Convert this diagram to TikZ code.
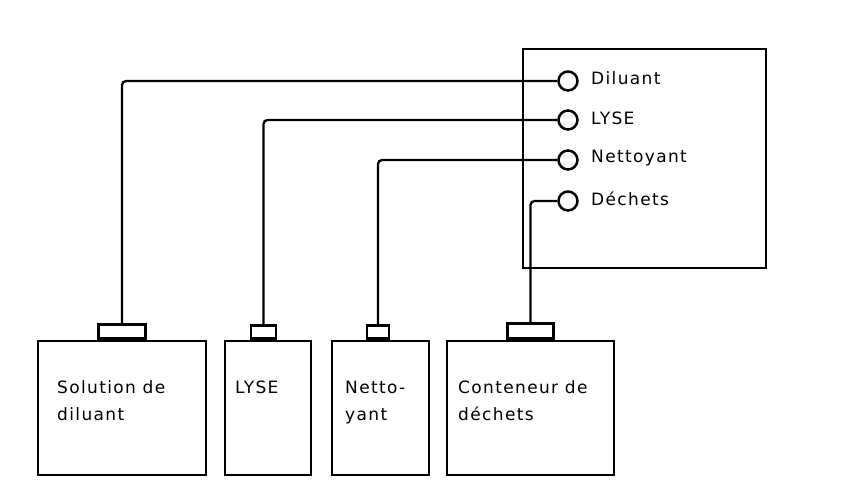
\documentclass[tikz,border=0pt]{standalone}
\usepackage{fontspec}
\newfontfamily\diafont[LetterSpace=8]{DejaVu Sans}
\usetikzlibrary{positioning, calc}

\begin{document}
\begin{tikzpicture}[
    x=1pt, y=-1pt,
    box/.style={rectangle, draw, line width=2.8pt, inner sep=0pt},
    capbox/.style={rectangle, draw, line width=2.5pt, inner sep=0pt, anchor=south},
    port/.style={circle, draw, line width=2.5pt, minimum size=19pt, inner sep=0pt},
    txt/.style={inner sep=0pt, align=left, font=\diafont\fontsize{17}{27}\selectfont},
    pipe/.style={line width=2.3pt, rounded corners=4pt}
]
    \useasboundingbox (0,0) rectangle (849,486);

    % appareil et ses raccords
    \node[box, minimum width=243pt, minimum height=219pt] (app) at (644.5,158.5) {};
    \node[port] (pDil) at (568,81) {};
    \node[port] (pLyse) at (568,120) {};
    \node[port] (pNet) at (568,160) {};
    \node[port] (pDech) at (568,201) {};
    \node[txt, anchor=west] (lDil) at (591,78) {Diluant};
    \node[txt, anchor=west] (lLyse) at (591,118) {LYSE};
    \node[txt, anchor=west] (lNet) at (591,158) {Nettoyant};
    \node[txt, anchor=west] (lDech) at (591,199) {D\'echets};

    % bidons
    \node[box, minimum width=168pt, minimum height=134pt] (bDil) at (122,408) {};
    \node[box, minimum width=86pt, minimum height=134pt] (bLyse) at (268,408) {};
    \node[box, minimum width=97pt, minimum height=134pt] (bNet) at (380.5,408) {};
    \node[box, minimum width=167pt, minimum height=134pt] (bDech) at (530.5,408) {};

    % bouchons
    \node[capbox, minimum width=47pt, minimum height=14pt] (cDil) at (bDil.north) {};
    \node[capbox, minimum width=25pt, minimum height=13pt] (cLyse) at ($(bLyse.north)+(-4.5,0)$) {};
    \node[capbox, minimum width=22pt, minimum height=13pt] (cNet) at ($(bNet.north)+(-2.5,0)$) {};
    \node[capbox, minimum width=46pt, minimum height=15pt] (cDech) at (bDech.north) {};

    % textes des bidons
    \node[txt, anchor=north west] (tDil) at (57,380) {Solution de\\diluant};
    \node[txt, anchor=north west] (tLyse) at (235,381) {LYSE};
    \node[txt, anchor=north west] (tNet) at (345,381) {Netto-\\yant};
    \node[txt, anchor=north west] (tDech) at (458,380) {Conteneur de\\d\'echets};

    % tuyaux
    \draw[pipe] (pDil.west) -| (cDil.north);
    \draw[pipe] (pLyse.west) -| (cLyse.north);
    \draw[pipe] (pNet.west) -| (cNet.north);
    \draw[pipe] (pDech.west) -| (cDech.north);
\end{tikzpicture}
\end{document}
